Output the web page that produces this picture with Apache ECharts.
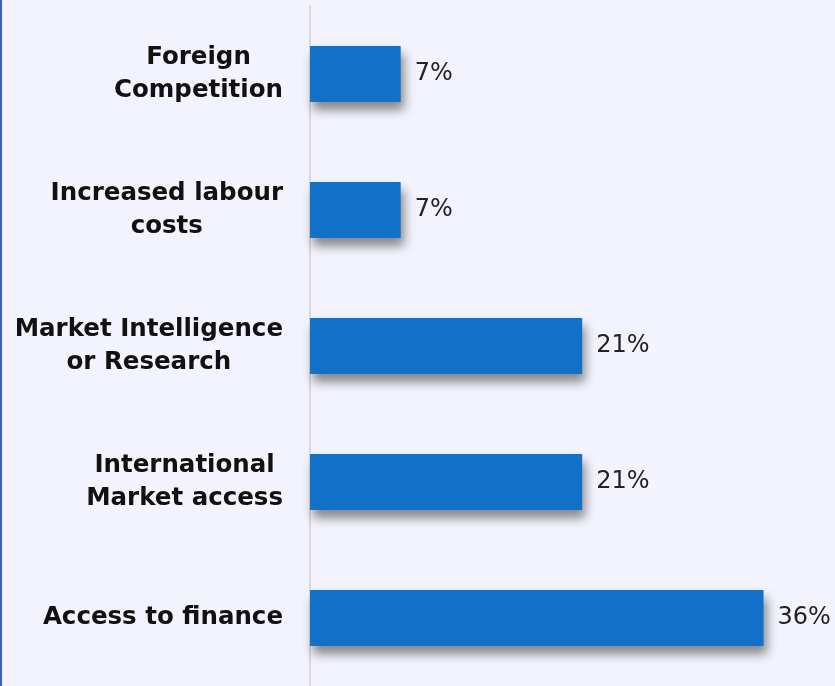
<!DOCTYPE html>
<html>
<head>
<meta charset="utf-8">
<title>Barriers</title>
<script src="https://cdn.jsdelivr.net/npm/echarts@6/dist/echarts.min.js"></script>
<style>
  html, body { margin: 0; padding: 0; background: #f3f3fd; }
  #main { width: 835px; height: 686px; }
</style>
</head>
<body>
<div id="main"></div>
<script>
// categories from top to bottom
var categories = [
    'Foreign\nCompetition',
    'Increased labour\ncosts',
    'Market Intelligence\nor Research',
    'International\nMarket access',
    'Access to finance'
];
// shares of respondents (%), shown rounded
var values = [7.14, 7.14, 21.43, 21.43, 35.71];

var myChart = echarts.init(document.getElementById('main'));
var option = {
    backgroundColor: '#f3f3fd',
    animation: false,
    graphic: [{
        type: 'rect',
        left: 0, top: 0,
        shape: { width: 2, height: 686 },
        style: { fill: '#3a62c4' }
    }],
    grid: { left: 310, right: 17, top: 6, height: 682, containLabel: false },
    xAxis: {
        type: 'value',
        min: 0,
        max: 40,
        show: false
    },
    yAxis: {
        type: 'category',
        inverse: true,
        data: categories,
        axisLine: { show: true, lineStyle: { color: '#d9d9dc', width: 2 } },
        axisTick: { show: false },
        axisLabel: {
            margin: 27,
            align: 'right',
            formatter: function (v) {
                // centre each line inside the right-aligned block
                return v.split('\n').map(function (l) { return '{c|' + l + '}'; }).join('\n');
            },
            rich: {
                c: {
                    align: 'center',
                    color: '#111',
                    fontFamily: 'DejaVu Sans',
                    fontWeight: 'bold',
                    fontSize: 24.5,
                    lineHeight: 33
                }
            }
        }
    },
    series: [{
        type: 'bar',
        data: values,
        barWidth: 56,
        itemStyle: {
            color: '#1170c8',
            shadowColor: 'rgba(0,0,0,0.45)',
            shadowBlur: 10,
            shadowOffsetX: 3,
            shadowOffsetY: 8
        },
        label: {
            show: true,
            position: 'right',
            distance: 14,
            formatter: function (p) { return Math.round(p.value) + '%'; },
            color: '#222',
            fontFamily: 'DejaVu Sans',
            fontSize: 24
        }
    }]
};
myChart.setOption(option);
</script>
</body>
</html>
